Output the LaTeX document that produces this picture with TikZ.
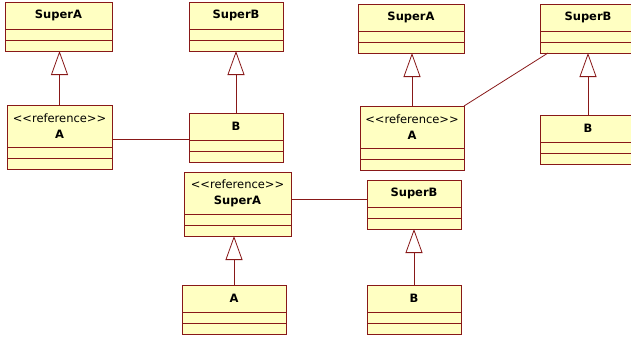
\documentclass[tikz,border=0pt]{standalone}
\usepackage{fontspec}
\newfontfamily\umlfont{DejaVu Sans}
\usepackage{tikz}
\usetikzlibrary{arrows.meta, positioning}
\definecolor{umlline}{RGB}{136, 24, 24}
\definecolor{umlfill}{RGB}{255, 255, 194}

\begin{document}
\begin{tikzpicture}[
    x=1pt, y=-1pt,
    namebox/.style={
        rectangle,
        draw=umlline,
        fill=umlfill,
        line width=0.8pt,
        anchor=north west,
        inner sep=0pt,
        outer sep=0pt,
        minimum width=#1,
        minimum height=27pt,
        align=center,
        font=\umlfont\fontsize{11.5}{16}\selectfont\bfseries
    },
    refbox/.style={namebox=#1, minimum height=42pt},
    compbox/.style={
        rectangle,
        draw=umlline,
        fill=umlfill,
        line width=0.8pt,
        inner sep=0pt,
        outer sep=0pt,
        minimum width=#1,
        minimum height=11pt
    },
    gen/.style={draw=umlline, line width=0.8pt, -{Triangle[open, fill=white, length=24pt, width=17pt]}},
    assoc/.style={draw=umlline, line width=0.8pt}
]
    \useasboundingbox (0,0) rectangle (631,337);

    % Left group
    \node[namebox=107pt] (lsupA) at (5,2) {SuperA};
    \node[compbox=107pt, below=0pt of lsupA] (lsupAatt) {};
    \node[compbox=107pt, below=0pt of lsupAatt] (lsupAop) {};

    \node[namebox=94pt] (lsupB) at (189,2) {SuperB};
    \node[compbox=94pt, below=0pt of lsupB] (lsupBatt) {};
    \node[compbox=94pt, below=0pt of lsupBatt] (lsupBop) {};

    \node[refbox=105pt] (lrefA) at (7,105) {{\mdseries <<reference>>}\\A};
    \node[compbox=105pt, below=0pt of lrefA] (lrefAatt) {};
    \node[compbox=105pt, below=0pt of lrefAatt] (lrefAop) {};

    \node[namebox=94pt] (lB) at (189,113) {B};
    \node[compbox=94pt, below=0pt of lB] (lBatt) {};
    \node[compbox=94pt, below=0pt of lBatt] (lBop) {};

    \draw[gen] (lrefA.north) -- (lrefA.north |- lsupAop.south);
    \draw[gen] (lB.north) -- (lB.north |- lsupBop.south);
    \draw[assoc] ([yshift=-13pt]lrefA.east) -- ([yshift=-13pt]lrefA.east -| lB.west);

    % Right group
    \node[namebox=106pt] (rsupA) at (358,4) {SuperA};
    \node[compbox=106pt, below=0pt of rsupA] (rsupAatt) {};
    \node[compbox=106pt, below=0pt of rsupAatt] (rsupAop) {};

    \node[namebox=96pt] (rsupB) at (540,4) {SuperB};
    \node[compbox=96pt, below=0pt of rsupB] (rsupBatt) {};
    \node[compbox=96pt, below=0pt of rsupBatt] (rsupBop) {};

    \node[refbox=104pt] (rrefA) at (360,106) {{\mdseries <<reference>>}\\A};
    \node[compbox=104pt, below=0pt of rrefA] (rrefAatt) {};
    \node[compbox=104pt, below=0pt of rrefAatt] (rrefAop) {};

    \node[namebox=96pt] (rB) at (540,115) {B};
    \node[compbox=96pt, below=0pt of rB] (rBatt) {};
    \node[compbox=96pt, below=0pt of rBatt] (rBop) {};

    \draw[gen] (rrefA.north) -- (rrefA.north |- rsupAop.south);
    \draw[gen] (rB.north) -- (rB.north |- rsupBop.south);
    \draw[assoc] (rrefA.north east) -- ([xshift=8pt]rsupBop.south west);

    % Bottom group
    \node[refbox=107pt] (bsupA) at (184,172) {{\mdseries <<reference>>}\\SuperA};
    \node[compbox=107pt, below=0pt of bsupA] (bsupAatt) {};
    \node[compbox=107pt, below=0pt of bsupAatt] (bsupAop) {};

    \node[namebox=94pt] (bsupB) at (367,180) {SuperB};
    \node[compbox=94pt, below=0pt of bsupB] (bsupBatt) {};
    \node[compbox=94pt, below=0pt of bsupBatt] (bsupBop) {};

    \node[namebox=104pt] (bA) at (182,285) {A};
    \node[compbox=104pt, below=0pt of bA] (bAatt) {};
    \node[compbox=104pt, below=0pt of bAatt] (bAop) {};

    \node[namebox=94pt] (bB) at (367,285) {B};
    \node[compbox=94pt, below=0pt of bB] (bBatt) {};
    \node[compbox=94pt, below=0pt of bBatt] (bBop) {};

    \draw[gen] (bA.north) -- (bA.north |- bsupAop.south);
    \draw[gen] (bB.north) -- (bB.north |- bsupBop.south);
    \draw[assoc] ([yshift=-6pt]bsupA.east) -- ([yshift=-6pt]bsupA.east -| bsupB.west);
\end{tikzpicture}
\end{document}
